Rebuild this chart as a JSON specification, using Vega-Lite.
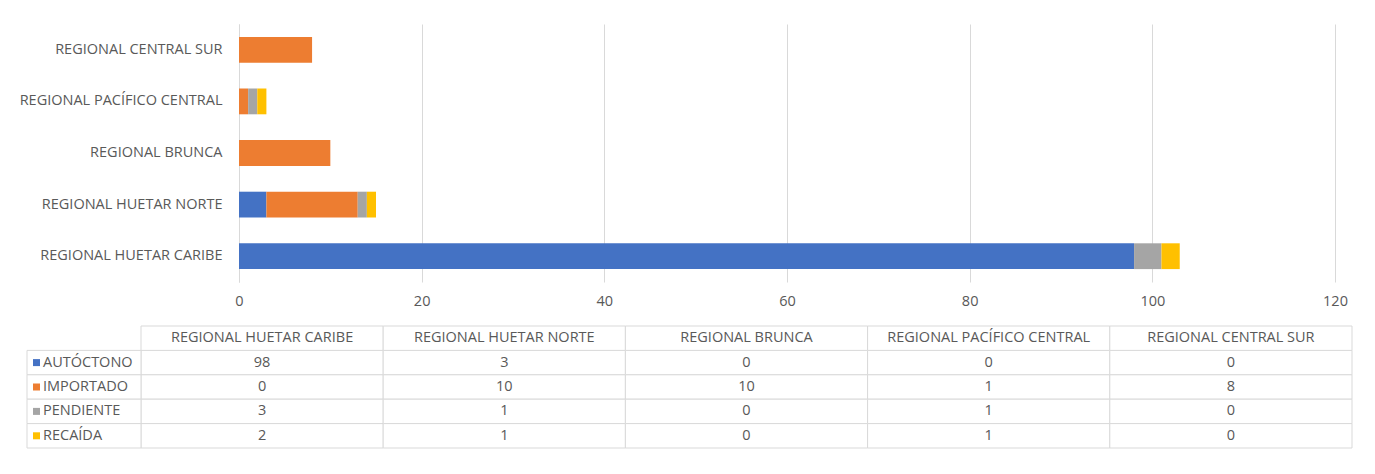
{
  "$schema": "https://vega.github.io/schema/vega-lite/v6.json",
  "padding": {"left": 19, "top": 24, "right": 0, "bottom": 0},
  "background": "white",
  "config": {"font": "Open Sans", "view": {"stroke": null}},
  "data": {"values": [
    {"region": "REGIONAL HUETAR CARIBE", "serie": "AUTÓCTONO", "value": 98},
    {"region": "REGIONAL HUETAR CARIBE", "serie": "IMPORTADO", "value": 0},
    {"region": "REGIONAL HUETAR CARIBE", "serie": "PENDIENTE", "value": 3},
    {"region": "REGIONAL HUETAR CARIBE", "serie": "RECAÍDA", "value": 2},
    {"region": "REGIONAL HUETAR NORTE", "serie": "AUTÓCTONO", "value": 3},
    {"region": "REGIONAL HUETAR NORTE", "serie": "IMPORTADO", "value": 10},
    {"region": "REGIONAL HUETAR NORTE", "serie": "PENDIENTE", "value": 1},
    {"region": "REGIONAL HUETAR NORTE", "serie": "RECAÍDA", "value": 1},
    {"region": "REGIONAL BRUNCA", "serie": "AUTÓCTONO", "value": 0},
    {"region": "REGIONAL BRUNCA", "serie": "IMPORTADO", "value": 10},
    {"region": "REGIONAL BRUNCA", "serie": "PENDIENTE", "value": 0},
    {"region": "REGIONAL BRUNCA", "serie": "RECAÍDA", "value": 0},
    {"region": "REGIONAL PACÍFICO CENTRAL", "serie": "AUTÓCTONO", "value": 0},
    {"region": "REGIONAL PACÍFICO CENTRAL", "serie": "IMPORTADO", "value": 1},
    {"region": "REGIONAL PACÍFICO CENTRAL", "serie": "PENDIENTE", "value": 1},
    {"region": "REGIONAL PACÍFICO CENTRAL", "serie": "RECAÍDA", "value": 1},
    {"region": "REGIONAL CENTRAL SUR", "serie": "AUTÓCTONO", "value": 0},
    {"region": "REGIONAL CENTRAL SUR", "serie": "IMPORTADO", "value": 8},
    {"region": "REGIONAL CENTRAL SUR", "serie": "PENDIENTE", "value": 0},
    {"region": "REGIONAL CENTRAL SUR", "serie": "RECAÍDA", "value": 0}
  ]},
  "spacing": 17,
  "vconcat": [
    {
      "width": 1096,
      "height": 258,
      "mark": {"type": "bar"},
      "encoding": {
        "y": {
          "field": "region", "type": "nominal",
          "sort": ["REGIONAL CENTRAL SUR", "REGIONAL PACÍFICO CENTRAL", "REGIONAL BRUNCA", "REGIONAL HUETAR NORTE", "REGIONAL HUETAR CARIBE"],
          "scale": {"paddingInner": 0.5, "paddingOuter": 0.25},
          "axis": {"title": null, "ticks": false, "grid": false, "labelPadding": 17, "labelLimit": 400, "domainColor": "#d9d9d9", "labelColor": "#595959", "labelFontSize": 14.5, "labelFont": "Open Sans"}
        },
        "x": {
          "field": "value", "type": "quantitative", "stack": "zero",
          "scale": {"domain": [0, 120], "nice": false},
          "axis": {"title": null, "values": [0, 20, 40, 60, 80, 100, 120], "ticks": false, "domain": false, "grid": true, "gridColor": "#d9d9d9", "labelPadding": 12, "labelFlush": false, "labelOverlap": false, "labelColor": "#595959", "labelFontSize": 14.5, "labelFont": "Open Sans"}
        },
        "color": {
          "field": "serie", "type": "nominal",
          "scale": {"domain": ["AUTÓCTONO", "IMPORTADO", "PENDIENTE", "RECAÍDA"], "range": ["#4472C4", "#ED7D31", "#A5A5A5", "#FFC000"]},
          "legend": null
        }
      }
    },
    {
      "width": 1096,
      "height": 122,
      "resolve": {"scale": {"x": "independent"}},
      "layer": [
        {
          "encoding": {
            "x": {"field": "region", "type": "nominal", "sort": ["REGIONAL HUETAR CARIBE", "REGIONAL HUETAR NORTE", "REGIONAL BRUNCA", "REGIONAL PACÍFICO CENTRAL", "REGIONAL CENTRAL SUR"], "scale": {"range": [-98, 1113], "paddingInner": 0, "paddingOuter": 0}, "axis": null}
          },
          "layer": [
            {
              "mark": {"type": "rect", "fill": "white", "stroke": "#d9d9d9", "strokeWidth": 1},
              "encoding": {
                "y": {"field": "serie", "type": "nominal", "scale": {"domain": [" ", "AUTÓCTONO", "IMPORTADO", "PENDIENTE", "RECAÍDA"], "paddingInner": 0, "paddingOuter": 0}, "axis": null}
              }
            },
            {
              "mark": {"type": "text", "color": "#595959", "fontSize": 14.5, "font": "Open Sans"},
              "encoding": {
                "y": {"field": "serie", "type": "nominal"},
                "text": {"field": "value", "type": "quantitative"}
              }
            },
            {
              "transform": [{"filter": "datum.serie === 'AUTÓCTONO'"}],
              "mark": {"type": "rect", "fill": "white", "stroke": "#d9d9d9", "strokeWidth": 1},
              "encoding": {
                "y": {"datum": " ", "type": "nominal"}
              }
            },
            {
              "transform": [{"filter": "datum.serie === 'AUTÓCTONO'"}],
              "mark": {"type": "text", "color": "#595959", "fontSize": 14.5, "font": "Open Sans"},
              "encoding": {
                "y": {"datum": " ", "type": "nominal"},
                "text": {"field": "region", "type": "nominal"}
              }
            }
          ]
        },
        {
          "transform": [{"filter": "datum.region === 'REGIONAL HUETAR CARIBE'"}],
          "encoding": {
            "x": {"datum": "leyenda", "type": "nominal", "scale": {"range": [-212, -98], "paddingInner": 0, "paddingOuter": 0}, "axis": null},
            "y": {"field": "serie", "type": "nominal"}
          },
          "layer": [
            {
              "mark": {"type": "rect", "fill": "white", "stroke": "#d9d9d9", "strokeWidth": 1}
            },
            {
              "mark": {"type": "point", "shape": "square", "filled": true, "size": 49, "opacity": 1, "xOffset": 9.5},
              "encoding": {
                "x": {"datum": "leyenda", "type": "nominal", "bandPosition": 0},
                "color": {"field": "serie", "type": "nominal", "legend": null}
              }
            },
            {
              "mark": {"type": "text", "align": "left", "dx": 16, "color": "#595959", "fontSize": 14.5, "font": "Open Sans"},
              "encoding": {
                "x": {"datum": "leyenda", "type": "nominal", "bandPosition": 0},
                "text": {"field": "serie", "type": "nominal"}
              }
            }
          ]
        }
      ]
    }
  ]
}
